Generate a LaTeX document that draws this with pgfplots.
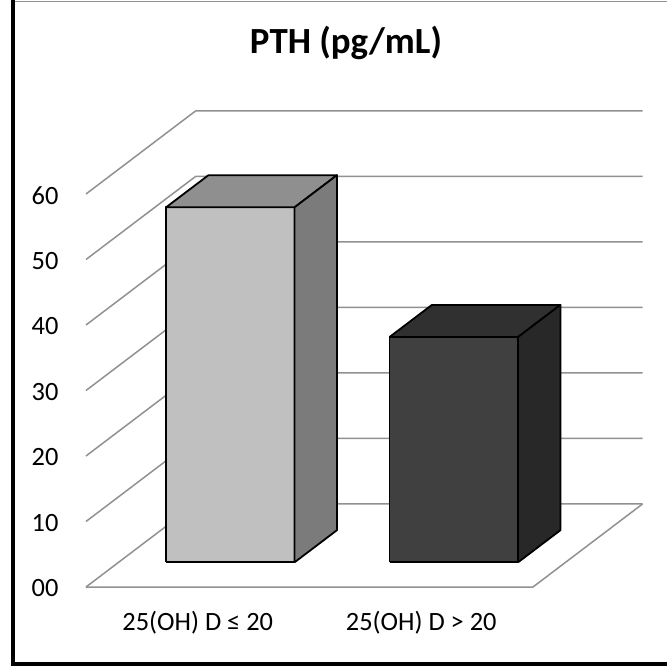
\documentclass[border=0pt]{standalone}
\usepackage{pgfplots}
\pgfplotsset{compat=1.18}
\usepackage{fontspec}
\setmainfont{Carlito}
\definecolor{gridc}{RGB}{145,145,145}
\definecolor{aFront}{RGB}{192,192,192}
\definecolor{aTop}{RGB}{143,143,143}
\definecolor{aSide}{RGB}{123,123,123}
\definecolor{bFront}{RGB}{64,64,64}
\definecolor{bTop}{RGB}{48,48,48}
\definecolor{bSide}{RGB}{40,40,40}
% bar values (PTH, pg/mL)
\newcommand\valA{54.2}
\newcommand\valB{34.4}
\begin{document}
\begin{tikzpicture}
\begin{axis}[
  x={(223.5bp,0bp)}, y={(109.5bp,83bp)}, z={(0bp,6.55bp)},
  xmin=0,xmax=2,ymin=0,ymax=1,zmin=0,zmax=60,
  hide axis, clip=false,
  every axis plot/.append style={line join=round, mark=none},
]
\pgfplotsinvokeforeach{0,10,20,30,40,50,60}{
  \addplot3[gridc, line width=1.5bp] coordinates {(0,0,#1) (0,1,#1) (2,1,#1)};
}
\addplot3[gridc, line width=1.5bp] coordinates {(0,0,0) (2,0,0) (2,1,0)};
% bar 1
\addplot3[draw=black, fill=aFront, line width=1.8bp] coordinates {(0.2125,0.2976,0) (0.7875,0.2976,0) (0.7875,0.2976,\valA) (0.2125,0.2976,\valA) (0.2125,0.2976,0)};
\addplot3[draw=black, fill=aTop, line width=1.8bp] coordinates {(0.2125,0.2976,\valA) (0.7875,0.2976,\valA) (0.7875,0.684,\valA) (0.2125,0.684,\valA) (0.2125,0.2976,\valA)};
\addplot3[draw=black, fill=aSide, line width=1.8bp] coordinates {(0.7875,0.2976,0) (0.7875,0.684,0) (0.7875,0.684,\valA) (0.7875,0.2976,\valA) (0.7875,0.2976,0)};
% bar 2
\addplot3[draw=black, fill=bFront, line width=1.8bp] coordinates {(1.2125,0.2976,0) (1.7875,0.2976,0) (1.7875,0.2976,\valB) (1.2125,0.2976,\valB) (1.2125,0.2976,0)};
\addplot3[draw=black, fill=bTop, line width=1.8bp] coordinates {(1.2125,0.2976,\valB) (1.7875,0.2976,\valB) (1.7875,0.684,\valB) (1.2125,0.684,\valB) (1.2125,0.2976,\valB)};
\addplot3[draw=black, fill=bSide, line width=1.8bp] coordinates {(1.7875,0.2976,0) (1.7875,0.684,0) (1.7875,0.684,\valB) (1.7875,0.2976,\valB) (1.7875,0.2976,0)};
% tick labels
\node[anchor=east, font=\fontsize{26.5}{30}\selectfont, xshift=-24bp, yshift=-1.5bp] at (axis cs:0,0,0) {00};
\node[anchor=east, font=\fontsize{26.5}{30}\selectfont, xshift=-24bp, yshift=-1.5bp] at (axis cs:0,0,10) {10};
\node[anchor=east, font=\fontsize{26.5}{30}\selectfont, xshift=-24bp, yshift=-1.5bp] at (axis cs:0,0,20) {20};
\node[anchor=east, font=\fontsize{26.5}{30}\selectfont, xshift=-24bp, yshift=-1.5bp] at (axis cs:0,0,30) {30};
\node[anchor=east, font=\fontsize{26.5}{30}\selectfont, xshift=-24bp, yshift=-1.5bp] at (axis cs:0,0,40) {40};
\node[anchor=east, font=\fontsize{26.5}{30}\selectfont, xshift=-24bp, yshift=-1.5bp] at (axis cs:0,0,50) {50};
\node[anchor=east, font=\fontsize{26.5}{30}\selectfont, xshift=-24bp, yshift=-1.5bp] at (axis cs:0,0,60) {60};
% category labels
\node[anchor=base, font=\fontsize{26.5}{30}\selectfont, yshift=-43bp] at (axis cs:0.5,0,0) {25(OH) D ≤ 20};
\node[anchor=base, font=\fontsize{26.5}{30}\selectfont, yshift=-43bp] at (axis cs:1.5,0,0) {25(OH) D > 20};
\coordinate (O) at (axis cs:0,0,0);
\end{axis}
\pgfresetboundingbox
\path[use as bounding box] ([shift={(-86bp,-84bp)}]O) rectangle ([shift={(581bp,587bp)}]O);
\draw[gridc, line width=1.5bp] ([shift={(-73bp,585.5bp)}]O) -- ([shift={(581bp,585.5bp)}]O);
\draw[black, line width=4bp, line cap=rect] ([shift={(-73bp,585bp)}]O) -- ([shift={(-73bp,-77bp)}]O) -- ([shift={(585bp,-77bp)}]O);
\node[anchor=base, font=\bfseries\fontsize{37}{44}\selectfont] at ([shift={(260bp,533.7bp)}]O) {PTH (pg/mL)};
\end{tikzpicture}
\end{document}
